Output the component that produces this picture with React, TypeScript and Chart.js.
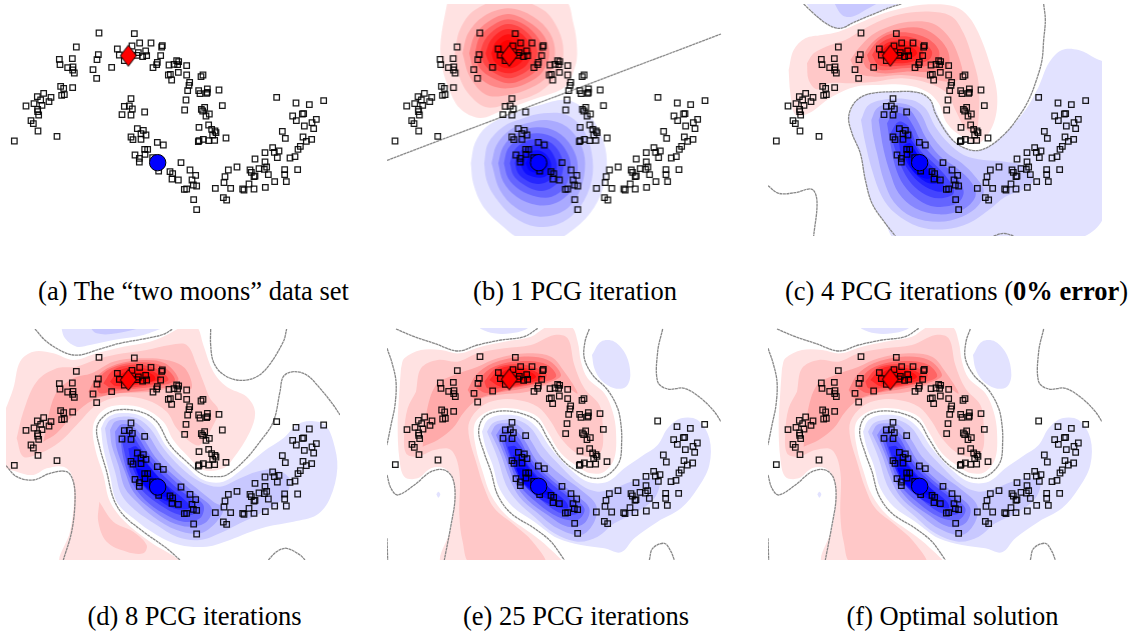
import React, { useEffect, useRef } from "react";
import { Chart, registerables } from "chart.js";

Chart.register(...registerables);

type P = [number, number];

// Read-off values in a common 3x pixel grid.
const moonPoints: P[] = [
  [43,363],[171,349],[114,333],[100,311],[93,302],[116,285],[113,275],[113,268],[126,256],[102,251],[78,258],[122,240],[112,230],[131,220],[153,232],[147,245],[185,226],[193,224],[182,199],[191,205],[218,203],[290,175],[279,149],[223,159],[218,150],[219,141],[203,143],[180,134],[178,118],[217,116],[229,81],[291,119],[295,104],[297,39],[335,142],[352,87],[358,105],[373,122],[396,78],[403,41],[419,69],[453,69],[437,93],[440,107],[428,110],[415,98],[411,106],[487,77],[485,81],[482,107],[472,127],[470,134],[459,143],
  [393,236],[388,258],[373,259],[397,267],[366,284],[393,285],[434,276],[412,326],[430,331],[438,345],[423,341],[393,351],[399,359],[423,358],[472,367],[490,375],[443,388],[434,388],[435,403],[405,405],[418,415],[418,426],[458,413],[476,453],
  [507,135],[522,133],[530,122],[536,125],[533,134],[560,137],[535,157],[560,165],[505,165],[511,163],[515,180],[569,187],[567,196],[563,212],[603,170],[609,165],[596,212],[600,221],[622,207],[622,217],[620,220],[657,210],[558,240],[554,270],[614,262],[604,268],[608,273],[628,282],[618,288],[667,257],[597,322],[626,315],[635,328],[645,333],[648,338],[638,345],[678,354],[644,361],[626,362],[610,358],[597,362],[595,365],
  [543,428],[570,450],[587,466],[518,461],[510,455],[535,480],[516,477],[576,480],[580,495],[590,498],[560,507],[553,508],[581,539],[590,569],[646,505],[675,470],[672,488],[685,450],[711,441],[692,505],[670,533],[680,540],[728,507],[732,510],[762,507],[747,492],[750,450],[754,457],[765,468],[762,470],[765,417],[777,446],[795,426],[795,398],[793,448],[800,441],[805,464],[796,502],[824,485],[859,485],[854,464],[854,449],[893,449],[818,383],[823,397],[832,413],[837,393],[870,414],[885,410],[894,388],[901,379],[919,364],[909,351],[935,358],[856,355],[847,334],[830,232],[888,249],[928,254],[971,242],[878,288],[889,302],[907,282],[911,281],[913,318],[936,308],[949,298],[941,326],
];
const redSeed: P[] = [[385, 107]];
const blueSeed: P[] = [[473, 428]];

const bRed: P[][] = [
  [[204,-60],[183,60],[185,130],[205,200],[240,265],[300,294],[370,270],[470,235],[555,200],[585,140],[591,90],[580,10],[550,-60]],
  [[225,100],[240,30],[285,-30],[385,-65],[490,-30],[535,30],[550,95],[535,160],[480,215],[400,245],[320,262],[265,220],[235,160]],
  [[248,100],[265,40],[310,-10],[385,-35],[460,-10],[510,40],[525,100],[505,165],[450,205],[385,225],[320,225],[270,170]],
  [[268,100],[285,45],[325,5],[385,-18],[445,5],[490,45],[508,100],[488,155],[440,190],[385,205],[330,195],[285,155]],
  [[285,100],[300,50],[340,15],[385,-2],[435,15],[475,55],[490,100],[470,150],[425,180],[385,190],[340,175],[300,145]],
  [[300,100],[315,60],[350,25],[385,12],[425,25],[460,60],[472,100],[455,140],[420,165],[385,175],[345,160],[315,135]],
  [[317,100],[330,65],[355,38],[385,27],[420,38],[445,65],[455,100],[440,135],[415,152],[385,160],[350,150],[328,128]],
  [[335,100],[345,70],[365,50],[385,43],[410,50],[430,72],[438,100],[425,125],[405,140],[385,145],[360,138],[342,122]],
  [[352,100],[360,75],[385,60],[410,75],[420,100],[408,120],[385,128],[362,120]],
];
const bBlue: P[][] = [
  [[273,430],[285,370],[320,320],[400,280],[480,255],[560,240],[620,275],[665,350],[680,420],[670,500],[630,580],[565,640],[520,660],[430,660],[370,620],[310,560],[280,490]],
  [[313,430],[325,370],[370,320],[430,295],[490,280],[560,285],[610,330],[635,400],[635,480],[600,560],[540,610],[470,620],[400,590],[345,530],[320,480]],
  [[335,430],[350,375],[390,330],[440,310],[500,300],[560,320],[600,370],[615,430],[600,510],[555,570],[480,590],[410,565],[360,510]],
  [[355,430],[370,380],[410,340],[470,322],[530,335],[575,380],[593,440],[575,510],[525,550],[470,555],[410,530],[370,485]],
  [[372,430],[385,385],[425,350],[475,340],[525,355],[560,395],[572,440],[555,500],[515,530],[470,530],[420,510],[385,475]],
  [[390,430],[402,392],[435,365],[475,358],[515,370],[542,405],[550,440],[535,485],[500,510],[465,510],[425,490],[400,465]],
  [[405,430],[415,400],[445,380],[475,375],[505,385],[525,415],[530,445],[515,475],[490,490],[460,490],[430,475],[412,455]],
  [[420,430],[430,405],[455,393],[480,392],[500,405],[513,430],[510,455],[490,472],[460,470],[435,458]],
  [[437,430],[450,410],[475,403],[495,412],[505,435],[495,450],[470,458],[447,450]],
];
const bLines: P[][] = [[[22,421],[1022,42]]];

const cRed: P[][] = [
  [[80,150],[95,90],[130,55],[180,45],[230,35],[290,10],[350,-15],[420,-35],[500,-47],[580,-40],[620,-10],[650,40],[680,120],[705,220],[695,310],[650,370],[600,350],[555,310],[530,250],[495,215],[430,195],[350,195],[280,200],[210,230],[140,280],[100,285],[85,220]],
  [[135,130],[155,100],[205,75],[250,60],[300,30],[360,0],[430,-20],[510,-25],[570,-10],[605,40],[630,110],[650,190],[650,290],[640,340],[610,325],[580,270],[555,220],[500,190],[420,175],[340,185],[270,190],[200,190],[165,208],[140,180]],
  [[265,120],[290,85],[330,45],[380,20],[440,5],[510,10],[560,50],[590,110],[600,170],[560,185],[500,175],[420,165],[340,170],[290,160]],
  [[300,115],[320,80],[360,45],[420,25],[480,25],[530,55],[560,100],[555,145],[500,155],[430,155],[360,160],[315,145]],
  [[315,105],[345,65],[385,42],[440,38],[495,55],[530,90],[525,125],[480,140],[420,145],[355,150],[325,130]],
  [[330,105],[355,70],[395,52],[440,50],[485,68],[510,95],[500,120],[455,133],[400,138],[350,135]],
  [[345,100],[370,72],[400,62],[445,65],[475,85],[485,105],[460,122],[410,130],[365,122]],
  [[355,100],[375,78],[410,72],[450,82],[465,100],[445,115],[400,122],[370,115]],
  [[370,100],[385,85],[420,83],[445,100],[425,112],[390,115]],
];
const cBlue: P[][] = [
  [[260,290],[280,245],[320,222],[400,215],[470,218],[505,240],[540,310],[590,375],[640,392],[680,380],[730,340],[790,270],[830,200],[860,130],[900,90],[950,90],[1000,115],[1030,135],[1030,575],[945,655],[400,655],[370,610],[330,550],[310,480],[295,400],[270,340]],
  [[297,300],[320,255],[380,237],[450,240],[490,265],[520,320],[560,370],[605,405],[665,420],[730,425],[790,440],[815,480],[780,510],[730,530],[680,570],[620,610],[550,628],[470,620],[400,580],[360,530],[330,450],[310,370]],
  [[328,300],[345,265],[385,250],[440,255],[475,280],[505,340],[550,395],[600,430],[640,470],[665,510],[650,555],[600,590],[530,605],[450,590],[395,545],[365,480],[345,400],[332,340]],
  [[350,300],[365,270],[400,260],[440,268],[465,300],[490,350],[530,405],[585,445],[630,490],[640,530],[600,570],[530,583],[460,565],[410,520],[385,460],[365,390]],
  [[375,310],[395,280],[430,285],[455,320],[480,370],[525,420],[580,465],[605,515],[585,550],[520,560],[470,540],[425,495],[400,440],[385,370]],
  [[385,340],[410,305],[440,320],[470,385],[515,430],[560,480],[575,520],[530,535],[480,518],[440,480],[410,420]],
  [[410,360],[430,340],[455,370],[480,410],[520,450],[545,495],[540,515],[490,500],[450,465],[420,415]],
  [[425,375],[445,370],[475,420],[510,460],[525,490],[490,485],[450,450],[430,415]],
  [[435,395],[450,385],[480,425],[500,455],[505,475],[475,470],[445,440]],
];
const cTopBlue: P[][] = [
  [[125,-60],[160,-15],[200,15],[235,25],[280,5],[340,-20],[385,-38],[430,-60]],
  [[212,-60],[240,-15],[270,-10],[310,-30],[355,-60]],
];
const cLines: P[][] = [
  [[125,-48],[160,-15],[200,15],[235,25],[280,5],[340,-20],[385,-38],[418,-48]],
  [[845,-48],[850,0],[845,60],[840,120],[825,175],[800,240],[770,290],[730,340],[680,380],[640,392],[590,375],[555,340],[520,280],[505,240],[470,218],[400,215],[320,222],[280,245],[260,290],[270,340],[295,400],[310,480],[330,550],[370,610],[400,648]],
  [[18,497],[50,520],[100,518],[150,508],[165,545],[155,648]],
  [[695,648],[725,640],[755,648]],
];

const dRed: P[][] = [
  [[10,270],[40,190],[60,110],[100,80],[160,85],[220,105],[290,85],[370,65],[450,50],[500,30],[550,5],[590,5],[610,60],[640,140],[680,185],[740,215],[765,260],[750,320],[700,400],[670,430],[610,435],[565,395],[520,345],[490,290],[430,250],[360,240],[310,255],[280,300],[285,370],[310,450],[330,530],[375,590],[450,650],[540,715],[185,715],[210,620],[222,530],[215,450],[190,425],[140,430],[100,450],[50,440],[10,420]],
  [[50,340],[70,260],[110,170],[170,130],[230,125],[300,100],[370,85],[440,75],[510,60],[560,60],[590,120],[610,170],[630,220],[655,255],[640,300],[600,360],[570,350],[530,310],[500,260],[440,225],[360,215],[290,240],[230,300],[180,350],[120,385],[70,395]],
  [[130,350],[165,210],[220,160],[275,145],[340,110],[420,100],[500,105],[555,130],[575,190],[530,185],[460,200],[360,205],[280,225],[220,270],[170,325]],
  [[265,200],[295,150],[350,118],[430,105],[495,115],[535,160],[520,180],[450,195],[350,205],[285,215]],
  [[290,190],[310,145],[360,120],[430,112],[490,125],[525,165],[490,180],[420,190],[340,198],[300,205]],
  [[310,175],[340,135],[390,120],[440,122],[485,140],[505,165],[460,178],[390,188],[335,190]],
  [[330,170],[360,135],[410,128],[450,135],[485,160],[450,172],[390,182],[345,182]],
  [[345,165],[375,140],[420,135],[460,150],[465,165],[420,175],[365,178]],
  [[358,165],[385,145],[425,145],[450,162],[415,170],[375,172]],
];
const dLowerRed: P[] = [[298,530],[340,590],[400,620],[440,660],[430,685],[380,680],[320,650],[295,590]];
const dBlue: P[][] = [
  [[303,310],[320,280],[355,265],[415,270],[460,300],[500,365],[555,420],[610,465],[670,470],[730,430],[790,380],[850,340],[890,300],[930,288],[975,300],[1000,350],[1012,430],[990,520],[950,570],[880,590],[800,605],[740,625],[690,645],[620,665],[540,660],[470,630],[400,580],[350,530],[330,450],[310,370]],
  [[315,310],[330,285],[365,275],[410,280],[450,310],[490,370],[540,425],[600,470],[660,485],[720,460],[770,440],[830,435],[870,465],[850,520],[790,560],[720,595],[670,620],[600,645],[530,635],[470,600],[405,555],[365,510],[345,440],[325,370]],
  [[330,315],[345,290],[375,285],[410,295],[445,330],[480,385],[530,440],[590,490],[640,530],[670,550],[650,590],[600,625],[530,615],[460,575],[410,530],[375,490],[355,420],[335,360]],
  [[345,320],[365,298],[400,305],[430,340],[465,395],[520,450],[585,505],[635,550],[620,590],[570,605],[510,590],[450,550],[400,500],[375,440],[350,370]],
  [[360,325],[380,310],[410,330],[445,385],[500,445],[560,500],[610,540],[600,580],[550,590],[490,565],[435,525],[395,470],[370,400]],
  [[365,345],[390,325],[420,365],[460,420],[520,480],[580,530],[585,565],[540,570],[480,540],[425,495],[390,440]],
  [[385,370],[410,365],[450,425],[500,480],[560,530],[570,550],[520,550],[470,520],[420,470],[395,420]],
  [[400,390],[425,400],[460,440],[510,495],[530,530],[490,525],[440,490],[410,440]],
  [[408,430],[440,440],[480,480],[505,515],[465,505],[425,470]],
];
const dTopBlue: P[][] = [
  [[182,0],[195,40],[230,65],[270,60],[340,45],[430,30],[495,0]],
  [[265,0],[290,25],[350,25],[440,0]],
];
const dLines: P[][] = [
  [[105,12],[140,50],[200,85],[240,90],[290,75],[360,55],[440,40],[490,28],[518,12]],
  [[632,12],[632,60],[640,110],[665,145],[710,165],[760,160],[800,130],[850,50],[860,12]],
  [[540,705],[500,670],[430,620],[370,570],[340,520],[320,440],[300,370],[290,310],[310,275],[350,255],[420,260],[470,290],[510,360],[560,410],[610,450],[650,455],[680,450],[730,410],[780,350],[820,290],[840,200],[850,155],[880,140],[920,150],[960,190],[1000,240],[1020,270]],
  [[18,422],[50,455],[100,465],[150,445],[200,440],[220,470],[225,530],[215,620],[190,705]],
  [[805,705],[830,680],[860,670],[900,690],[915,705]],
];

const fRed: P[][] = [
  [[60,130],[70,100],[120,75],[180,75],[235,85],[300,65],[370,50],[450,35],[500,5],[570,5],[590,50],[600,110],[620,160],[670,205],[695,260],[705,320],[700,400],[670,440],[630,445],[590,425],[540,385],[500,320],[470,275],[420,255],[360,250],[310,265],[280,300],[285,370],[305,440],[330,510],[375,570],[450,625],[500,665],[540,715],[185,715],[210,610],[222,520],[215,460],[190,430],[150,430],[110,460],[70,455],[55,400],[50,300],[55,200]],
  [[105,200],[120,130],[170,105],[230,110],[290,85],[370,70],[450,60],[520,30],[560,40],[580,120],[610,190],[655,240],[665,300],[660,380],[620,395],[580,380],[540,340],[510,290],[470,245],[410,225],[350,225],[300,245],[265,290],[265,340],[285,410],[310,490],[340,550],[400,600],[455,650],[490,715],[270,715],[245,650],[235,570],[235,440],[210,375],[160,375],[110,395],[75,385],[70,320],[80,250]],
  [[125,365],[135,270],[165,180],[220,150],[290,125],[350,100],[440,85],[510,95],[550,140],[590,205],[560,190],[500,180],[440,200],[350,210],[290,225],[250,260],[215,310],[170,345]],
  [[260,195],[285,150],[335,115],[420,95],[500,105],[540,150],[510,170],[430,190],[340,205],[280,220]],
  [[285,190],[315,140],[370,115],[440,108],[500,120],[525,155],[470,175],[395,190],[320,205]],
  [[310,170],[345,130],[400,118],[455,125],[495,145],[490,165],[420,182],[355,190],[320,190]],
  [[325,165],[360,130],[410,125],[460,138],[485,160],[420,178],[360,185]],
  [[345,160],[375,135],[425,132],[465,155],[420,172],[365,178]],
  [[360,160],[390,140],[430,145],[450,160],[410,170],[375,170]],
];
const fLowerRed: P[] = [[368,622],[395,630],[420,650],[415,662],[390,655],[372,640]];
const fBlue: P[][] = [
  [[303,320],[320,285],[360,270],[420,275],[465,305],[510,370],[560,425],[620,470],[680,470],[730,430],[780,395],[830,360],[860,310],[900,280],[950,285],[985,340],[985,420],[950,490],[900,550],[830,590],[760,640],[720,682],[670,670],[600,660],[530,640],[460,590],[395,545],[355,490],[335,420],[315,370]],
  [[318,320],[335,295],[365,285],[410,285],[450,310],[490,370],[540,425],[600,480],[650,500],[700,490],[750,470],[800,460],[835,470],[820,520],[770,560],[700,595],[650,635],[590,650],[520,625],[460,575],[410,530],[375,480],[350,400]],
  [[330,325],[345,300],[375,295],[410,300],[445,340],[480,395],[540,450],[600,495],[645,540],[640,590],[600,630],[530,610],[465,560],[415,515],[385,460],[360,390]],
  [[345,330],[365,305],[395,310],[430,345],[465,405],[525,465],[585,510],[625,550],[610,595],[560,605],[500,570],[440,525],[400,470],[370,390]],
  [[355,330],[375,315],[410,335],[445,395],[495,450],[555,500],[610,550],[590,585],[530,575],[470,535],[415,480],[385,410]],
  [[370,345],[390,335],[420,365],[455,420],[510,475],[570,525],[590,565],[540,565],[480,525],[425,475],[395,420]],
  [[380,365],[405,365],[445,425],[495,480],[555,530],[560,550],[510,540],[450,500],[410,450]],
  [[395,390],[420,400],[460,450],[520,505],[520,525],[475,510],[425,470]],
  [[405,430],[430,430],[470,475],[510,510],[470,500],[425,470]],
];
const fExtraBlue: P[][] = [
  [[290,0],[300,12],[340,25],[390,25],[430,15],[450,0]],
  [[633,90],[660,50],[700,50],[735,90],[748,150],[735,185],[700,190],[660,165],[640,130]],
  [[166,508],[172,500],[178,508],[172,518]],
];
const fLines: P[][] = [
  [[45,12],[100,35],[160,55],[230,78],[290,60],[360,45],[430,35],[470,10]],
  [[18,70],[32,110],[45,170],[42,240],[30,300],[18,360]],
  [[625,12],[612,50],[610,100],[635,150],[680,195],[710,250],[720,300],[722,350],[715,410],[680,450],[640,460],[590,440],[540,400],[500,340],[470,290],[420,265],[360,258],[310,275],[293,320],[310,385],[330,440],[350,510],[390,565],[460,610],[510,650],[550,705]],
  [[845,12],[830,80],[830,170],[860,192],[910,190],[960,220],[1000,260],[1020,290]],
  [[18,450],[30,490],[50,510],[100,480],[150,440],[190,435],[215,460],[222,520],[210,600],[190,705]],
  [[805,705],[815,670],[850,655],[870,680],[880,705]],
  [[18,640],[20,705]],
];

const shades = [226, 200, 170, 135, 100, 68, 38, 14, 0];
const redAt = (i: number) => `rgb(255,${shades[i]},${shades[i]})`;
const blueAt = (i: number) => `rgb(${shades[i]},${shades[i]},255)`;

type Panel = {
  left: number; top: number; x0: number; x1: number; y0: number; y1: number;
  dx: number; dy: number;
  red: P[][]; blue: P[][]; extraBlue: P[][]; extraRed: P[][]; lines: P[][];
};

const panels: Panel[] = [
  { left: 0, top: 20, x0: 0, x1: 1035, y0: -48, y1: 660, dx: 0, dy: 0, red: [], blue: [], extraBlue: [], extraRed: [], lines: [] },
  { left: 380, top: 20, x0: 22, x1: 1025, y0: -48, y1: 648, dx: 3, dy: 0, red: bRed, blue: bBlue, extraBlue: [], extraRed: [], lines: bLines },
  { left: 762, top: 20, x0: 18, x1: 1020, y0: -48, y1: 648, dx: 0, dy: 0, red: cRed, blue: cBlue, extraBlue: cTopBlue, extraRed: [], lines: cLines },
  { left: 0, top: 325, x0: 18, x1: 1020, y0: 12, y1: 705, dx: 0, dy: 58, red: dRed, blue: dBlue, extraBlue: dTopBlue, extraRed: [dLowerRed], lines: dLines },
  { left: 381, top: 325.33, x0: 18, x1: 1020, y0: 9, y1: 705, dx: 0, dy: 56, red: fRed, blue: fBlue, extraBlue: fExtraBlue, extraRed: [fLowerRed], lines: fLines },
  { left: 762, top: 325, x0: 18, x1: 1020, y0: 9, y1: 705, dx: 0, dy: 56, red: fRed, blue: fBlue, extraBlue: fExtraBlue, extraRed: [fLowerRed], lines: fLines },
];

const captions: { x: number; y: number; text: string; bold?: string; tail?: string }[] = [
  { x: 193.5, y: 291, text: "(a) The “two moons” data set" },
  { x: 575, y: 291, text: "(b) 1 PCG iteration" },
  { x: 956.5, y: 291, text: "(c) 4 PCG iterations (", bold: "0% error", tail: ")" },
  { x: 194.5, y: 616, text: "(d) 8 PCG iterations" },
  { x: 576, y: 616, text: "(e) 25 PCG iterations" },
  { x: 952.5, y: 616, text: "(f) Optimal solution" },
];

function diamondImage(): HTMLCanvasElement {
  const c = document.createElement("canvas");
  c.width = 18; c.height = 24;
  const g = c.getContext("2d")!;
  g.beginPath();
  g.moveTo(9, 1.5); g.lineTo(17, 12); g.lineTo(9, 22.5); g.lineTo(1, 12); g.closePath();
  g.fillStyle = "#ff0000"; g.fill();
  g.strokeStyle = "#000"; g.lineWidth = 1; g.stroke();
  return c;
}

function area(pts: P[], color: string) {
  return {
    data: [...pts, pts[0]].map(([x, y]) => ({ x, y })),
    showLine: true, fill: "shape", backgroundColor: color, borderWidth: 0,
    borderColor: "transparent", pointRadius: 0, tension: 0.35,
  };
}

function PanelChart({ panel }: { panel: Panel }) {
  const ref = useRef<HTMLCanvasElement | null>(null);
  useEffect(() => {
    const p = panel;
    const painted: any[] = [];
    p.red.forEach((r, i) => {
      painted.push(area(r, redAt(i)));
      if (i === 0 && p.extraRed.length) p.extraRed.forEach((e) => painted.push(area(e, redAt(1))));
    });
    p.extraBlue.forEach((e, i) => painted.push(area(e, blueAt(p.extraBlue.length === 2 ? i : 0))));
    p.blue.forEach((r, i) => painted.push(area(r, blueAt(i))));
    p.lines.forEach((l) =>
      painted.push({
        data: l.map(([x, y]) => ({ x, y })), showLine: true, fill: false,
        borderColor: "rgba(130,130,130,0.95)", borderWidth: 1.3, borderDash: [3, 0.5],
        pointRadius: 0, tension: l.length > 2 ? 0.35 : 0,
      })
    );
    const shift = (a: P[]) => a.map(([x, y]) => ({ x: x + p.dx, y: y + p.dy }));
    painted.push({
      data: shift(moonPoints), showLine: false, pointStyle: "rect", pointRadius: 3.9,
      pointBorderColor: "rgba(0,0,0,0.9)", pointBorderWidth: 1.25, pointBackgroundColor: "transparent",
    });
    painted.push({
      data: shift(redSeed), showLine: false, pointStyle: diamondImage(), pointRadius: 12,
    });
    painted.push({
      data: shift(blueSeed), showLine: false, pointStyle: "circle", pointRadius: 8.2,
      pointBackgroundColor: "#0000ff", pointBorderColor: "#000", pointBorderWidth: 1,
    });
    const chart = new Chart(ref.current!, {
      type: "scatter",
      data: { datasets: painted.reverse() },
      options: {
        animation: false, responsive: false, devicePixelRatio: 1,
        layout: { padding: 0, autoPadding: false },
        plugins: { legend: { display: false }, tooltip: { enabled: false }, title: { display: false } },
        scales: {
          x: { type: "linear", display: false, min: p.x0, max: p.x1 },
          y: { type: "linear", display: false, reverse: true, min: p.y0, max: p.y1 },
        },
      } as any,
    });
    return () => chart.destroy();
  }, [panel]);
  const w = (panel.x1 - panel.x0) / 3;
  const h = (panel.y1 - panel.y0) / 3;
  return (
    <canvas
      ref={ref}
      width={w}
      height={h}
      style={{
        position: "absolute", display: "block", width: w, height: h,
        left: panel.left + panel.x0 / 3, top: panel.top + panel.y0 / 3,
      }}
    />
  );
}

export default function App() {
  return (
    <div style={{ position: "absolute", left: 0, top: 0, width: 1135, height: 635, background: "#fff", overflow: "hidden" }}>
      {panels.map((p, i) => <PanelChart key={i} panel={p} />)}
      {captions.map((c) => (
        <span
          key={c.text}
          style={{
            position: "absolute", left: c.x, top: c.y, transform: "translate(-50%,-50%)",
            whiteSpace: "nowrap", fontFamily: "'Liberation Serif', serif", fontSize: 26.5, color: "#000",
          }}
        >
          {c.text}
          {c.bold ? <b>{c.bold}</b> : null}
          {c.tail}
        </span>
      ))}
    </div>
  );
}
